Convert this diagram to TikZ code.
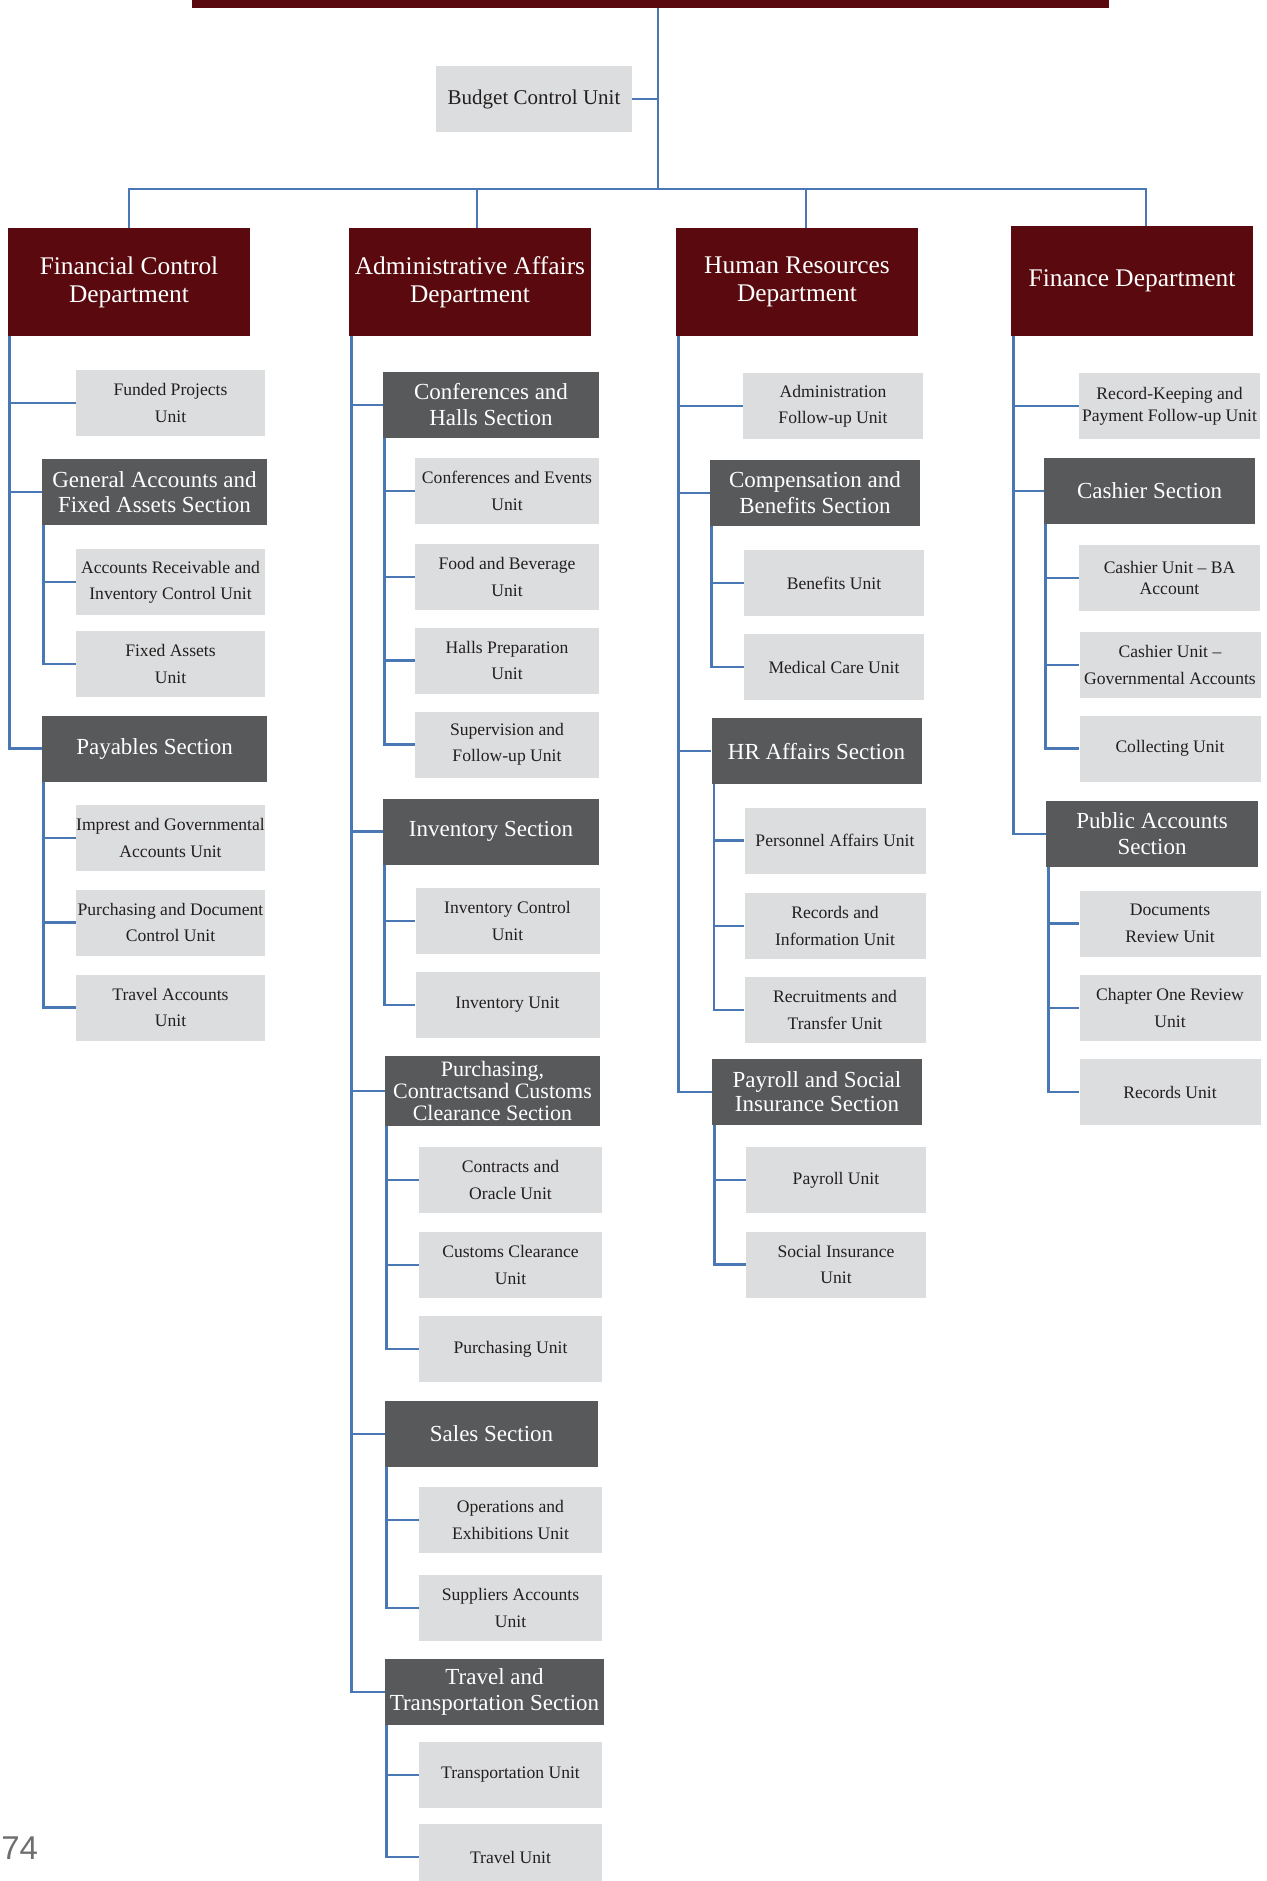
\documentclass[tikz,border=0pt]{standalone}
\usepackage{fontspec}
\setmainfont{Liberation Serif}
\newfontfamily\pagefont{Liberation Sans}
\definecolor{deptred}{HTML}{5A0A0E}
\definecolor{sectgray}{HTML}{58595B}
\definecolor{unitgray}{HTML}{DCDDDE}
\definecolor{inkdark}{HTML}{231F20}
\definecolor{linkblue}{HTML}{4A78B5}
\definecolor{pagegray}{HTML}{6D6E70}

\begin{document}
\begin{tikzpicture}[x=0.5pt,y=-0.5pt,
  dept/.style={fill=deptred,text=white,minimum width=121pt,minimum height=54pt,inner sep=0pt,align=center,font=\fontsize{12.7}{14}\selectfont},
  sect/.style={fill=sectgray,text=white,minimum height=33pt,inner sep=0pt,align=center,font=\fontsize{11.5}{13}\selectfont},
  unitbox/.style={fill=unitgray,text=inkdark,minimum height=33pt,inner sep=0pt,align=center,font=\fontsize{8.8}{13.2}\selectfont},
  tight/.style={font=\fontsize{8.8}{11}\selectfont},
  link/.style={draw=linkblue,line width=1.3pt}]
  \useasboundingbox (0,0) rectangle (1266,1881);

  \node[fill=deptred,minimum width=458.5pt,minimum height=4pt,inner sep=0pt] (board) at (650.5,4) {};
  \node[unitbox,minimum width=98pt,font=\fontsize{10.5}{13}\selectfont] (bcu) at (534,99) {Budget Control Unit};

  \node[dept] (fc) at (129,282) {Financial Control\\Department};
  \node[dept] (aa) at (470,282) {Administrative Affairs\\Department};
  \node[dept] (hr) at (797,282) {Human Resources\\Department};
  \node[dept,minimum height=55pt] (fd) at (1132,281) {Finance Department};

  % financial control
  \node[unitbox,minimum width=94.5pt] (fp)  at (170.5,403)  {Funded Projects\\Unit};
  \node[sect,minimum width=112.5pt,font=\fontsize{11.5}{12.3}\selectfont] (gas) at (154.5,492) {General Accounts and\\Fixed Assets Section};
  \node[unitbox,minimum width=94.5pt] (arc) at (170.5,582)  {Accounts Receivable and\\Inventory Control Unit};
  \node[unitbox,minimum width=94.5pt] (fau) at (170.5,664)  {Fixed Assets\\Unit};
  \node[sect,minimum width=112.5pt] (pay) at (154.5,748.5) {Payables Section};
  \node[unitbox,minimum width=94.5pt] (igu) at (170.5,838)  {Imprest and Governmental\\Accounts Unit};
  \node[unitbox,minimum width=94.5pt] (pdc) at (170.5,922.5) {Purchasing and Document\\Control Unit};
  \node[unitbox,minimum width=94.5pt] (tau) at (170.5,1007.5) {Travel Accounts\\Unit};

  % administrative affairs
  \node[sect,minimum width=108pt] (chs) at (491,405) {Conferences and\\Halls Section};
  \node[unitbox,minimum width=92pt] (ceu) at (507,491)   {Conferences and Events\\Unit};
  \node[unitbox,minimum width=92pt] (fbu) at (507,577)   {Food and Beverage\\Unit};
  \node[unitbox,minimum width=92pt] (hpu) at (507,660.5) {Halls Preparation\\Unit};
  \node[unitbox,minimum width=92pt] (sfu) at (507,744.5) {Supervision and\\Follow-up Unit};
  \node[sect,minimum width=108pt] (inv) at (491,831.5) {Inventory Section};
  \node[unitbox,minimum width=92pt] (icu) at (507.5,921)   {Inventory Control\\Unit};
  \node[unitbox,minimum width=92pt] (inu) at (507.5,1005)  {Inventory Unit};
  \node[sect,minimum width=107.5pt,minimum height=35pt,font=\fontsize{11}{11}\selectfont] (pcc) at (492.5,1091) {Purchasing,\\Contractsand Customs\\Clearance Section};
  \node[unitbox,minimum width=91.5pt] (cou) at (510.5,1180)  {Contracts and\\Oracle Unit};
  \node[unitbox,minimum width=91.5pt] (ccu) at (510.5,1265)  {Customs Clearance\\Unit};
  \node[unitbox,minimum width=91.5pt] (puu) at (510.5,1349)  {Purchasing Unit};
  \node[sect,minimum width=106.5pt] (sal) at (491.5,1434) {Sales Section};
  \node[unitbox,minimum width=91.5pt] (oeu) at (510.5,1520)  {Operations and\\Exhibitions Unit};
  \node[unitbox,minimum width=91.5pt] (sau) at (510.5,1608)  {Suppliers Accounts\\Unit};
  \node[sect,minimum width=109.5pt] (tts) at (494.5,1692) {Travel and\\Transportation Section};
  \node[unitbox,minimum width=91.5pt] (tru) at (510.5,1775)  {Transportation Unit};
  \node[unitbox,minimum width=91.5pt] (tvu) at (510.5,1857)  {Travel Unit};

  % human resources
  \node[unitbox,minimum width=90pt] (afu) at (833,406)   {Administration\\Follow-up Unit};
  \node[sect,minimum width=105pt] (cbs) at (815,493)     {Compensation and\\Benefits Section};
  \node[unitbox,minimum width=90pt] (beu) at (834,583)   {Benefits Unit};
  \node[unitbox,minimum width=90pt] (mcu) at (834,667)   {Medical Care Unit};
  \node[sect,minimum width=105pt] (hra) at (816.5,751)   {HR Affairs Section};
  \node[unitbox,minimum width=90.5pt] (pau) at (835,840.5) {Personnel Affairs Unit};
  \node[unitbox,minimum width=90.5pt] (riu) at (835,926)   {Records and\\Information Unit};
  \node[unitbox,minimum width=90.5pt] (rtu) at (835,1010)  {Recruitments and\\Transfer Unit};
  \node[sect,minimum width=105pt,font=\fontsize{11.5}{12}\selectfont] (psi) at (817,1092) {Payroll and Social\\Insurance Section};
  \node[unitbox,minimum width=90pt] (pru) at (836,1180)  {Payroll Unit};
  \node[unitbox,minimum width=90pt] (siu) at (836,1264.5) {Social Insurance\\Unit};

  % finance
  \node[unitbox,tight,minimum width=90.5pt] (rkp) at (1169.5,406) {Record-Keeping and\\Payment Follow-up Unit};
  \node[sect,minimum width=105.5pt] (cas) at (1149.5,491) {Cashier Section};
  \node[unitbox,minimum width=90.5pt,font=\fontsize{8.8}{10.5}\selectfont] (cba) at (1169.5,578) {Cashier Unit – BA\\Account};
  \node[unitbox,minimum width=90.5pt] (cga) at (1170,665)   {Cashier Unit –\\Governmental Accounts};
  \node[unitbox,minimum width=90.5pt] (clu) at (1170,748.5) {Collecting Unit};
  \node[sect,minimum width=106pt] (pas) at (1152,834) {Public Accounts\\Section};
  \node[unitbox,minimum width=90.5pt] (dru) at (1170,923.5) {Documents\\Review Unit};
  \node[unitbox,minimum width=90.5pt] (cor) at (1170,1008)  {Chapter One Review\\Unit};
  \node[unitbox,minimum width=90.5pt] (reu) at (1170,1092)  {Records Unit};

  \node[text=pagegray,font=\pagefont\fontsize{16.5}{18}\selectfont,anchor=west,inner sep=0pt] (pgno) at (1,1848) {74};

  % top links
  \coordinate (hub) at (658,189);
  \draw[link] (hub |- board.south) -- (hub);
  \draw[link] (bcu.east) -- (bcu.east -| hub);
  \draw[link] (fc.north) |- (hub) -| ([xshift=7pt]fd.north);
  \draw[link] ([xshift=3.5pt]aa.north) -- ([xshift=3.5pt]aa.north |- hub);
  \draw[link] ([xshift=4.5pt]hr.north) -- ([xshift=4.5pt]hr.north |- hub);

  % branches
  \coordinate (fcT) at ([xshift=1pt]fc.south west);
  \coordinate (gasT) at ([xshift=1pt]gas.south west);
  \coordinate (payT) at ([xshift=1pt]pay.south west);
  \draw[link] (fcT) |- (fp.west) (fcT) |- (gas.west) (fcT) |- (pay.west);
  \draw[link] (gasT) |- (arc.west) (gasT) |- (fau.west);
  \draw[link] (payT) |- (igu.west) (payT) |- (pdc.west) (payT) |- (tau.west);

  \coordinate (aaT) at ([xshift=1.5pt]aa.south west);
  \coordinate (chsT) at ([xshift=1pt]chs.south west);
  \coordinate (invT) at ([xshift=1pt]inv.south west);
  \coordinate (pccT) at ([xshift=1pt]pcc.south west);
  \coordinate (salT) at ([xshift=1pt]sal.south west);
  \coordinate (ttsT) at ([xshift=1pt]tts.south west);
  \draw[link] (aaT) |- (chs.west) (aaT) |- (inv.west) (aaT) |- (pcc.west) (aaT) |- (sal.west) (aaT) |- (tts.west);
  \draw[link] (chsT) |- (ceu.west) (chsT) |- (fbu.west) (chsT) |- (hpu.west) (chsT) |- (sfu.west);
  \draw[link] (invT) |- (icu.west) (invT) |- (inu.west);
  \draw[link] (pccT) |- (cou.west) (pccT) |- (ccu.west) (pccT) |- (puu.west);
  \draw[link] (salT) |- (oeu.west) (salT) |- (sau.west);
  \draw[link] (ttsT) |- (tru.west) (ttsT) |- (tvu.west);

  \coordinate (hrT) at ([xshift=1.5pt]hr.south west);
  \coordinate (cbsT) at ([xshift=1pt]cbs.south west);
  \coordinate (hraT) at ([xshift=1.5pt]hra.south west);
  \coordinate (psiT) at ([xshift=1.5pt]psi.south west);
  \draw[link] (hrT) |- (afu.west) (hrT) |- (cbs.west) (hrT) |- (hra.west) (hrT) |- (psi.west);
  \draw[link] (cbsT) |- (beu.west) (cbsT) |- (mcu.west);
  \draw[link] (hraT) |- (pau.west) (hraT) |- (riu.west) (hraT) |- (rtu.west);
  \draw[link] (psiT) |- (pru.west) (psiT) |- (siu.west);

  \coordinate (fdT) at ([xshift=1.5pt]fd.south west);
  \coordinate (casT) at ([xshift=1pt]cas.south west);
  \coordinate (pasT) at ([xshift=1.5pt]pas.south west);
  \draw[link] (fdT) |- (rkp.west) (fdT) |- (cas.west) (fdT) |- (pas.west);
  \draw[link] (casT) |- (cba.west) (casT) |- (cga.west) (casT) |- (clu.west);
  \draw[link] (pasT) |- (dru.west) (pasT) |- (cor.west) (pasT) |- (reu.west);
\end{tikzpicture}
\end{document}
